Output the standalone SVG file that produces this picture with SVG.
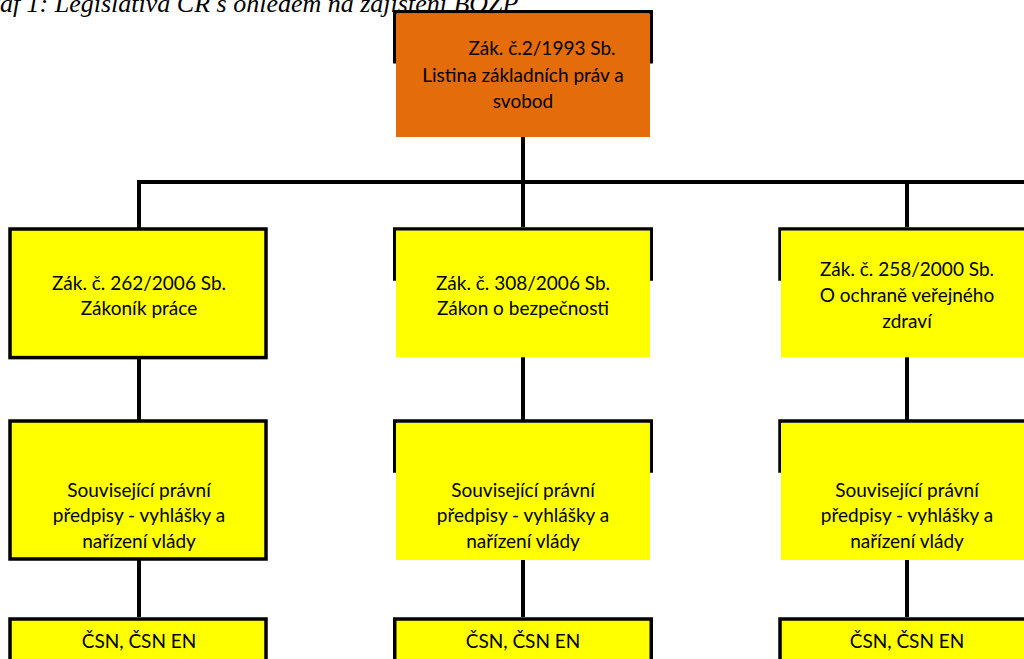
<svg xmlns="http://www.w3.org/2000/svg" width="1024" height="659" viewBox="0 0 1024 659">
<style>
.bd{fill:none;stroke:#000;stroke-width:3.5}
.fb{fill:#FFFF00;stroke:#000;stroke-width:3.5}
.y{fill:#FFFF00}
.o{fill:#E46C0A}
.t{font-family:Lato,"Open Sans",sans-serif;font-size:19px;fill:#000;text-anchor:middle}
.ttl{font-family:"Liberation Serif",serif;font-style:italic;font-size:26px;fill:#000}
.c{stroke:#000;stroke-width:4;fill:none}
</style>
<text class="ttl" x="-29" y="12">Graf 1: Legislativa ČR s ohledem na zajištění BOZP</text>
<g id="connectors">
<path class="c" d="M523 137V227M139 229V182H1024M907 182V227"/>
<path class="c" d="M139 359V420M523 357V420M907 357V420"/>
<path class="c" d="M139 560V617M523 560V617M907 560V617"/>
</g>
<g id="n0">
<rect class="bd" x="394.75" y="11.75" width="256.5" height="50"/>
<rect class="o" x="396" y="14" width="254" height="123"/>
<text class="t" x="542" y="55">Zák. č.2/1993 Sb.</text>
<text class="t" x="523" y="82">Listina základních práv a</text>
<text class="t" x="523" y="108">svobod</text>
</g>
<g id="n1">
<rect class="fb" x="10" y="229" width="256" height="128.6"/>
<text class="t" x="139" y="290">Zák. č. 262/2006 Sb.</text>
<text class="t" x="139" y="315">Zákoník práce</text>
</g>
<g id="n2">
<rect class="bd" x="394.75" y="229" width="256.5" height="50"/>
<rect class="y" x="396" y="230.7" width="254" height="126.6"/>
<text class="t" x="523" y="290">Zák. č. 308/2006 Sb.</text>
<text class="t" x="523" y="315">Zákon o bezpečnosti</text>
</g>
<g id="n3">
<rect class="bd" x="780" y="229" width="256.5" height="50"/>
<rect class="y" x="781" y="230.7" width="254" height="126.6"/>
<text class="t" x="907" y="276">Zák. č. 258/2000 Sb.</text>
<text class="t" x="907" y="302">O ochraně veřejného</text>
<text class="t" x="907" y="328">zdraví</text>
</g>
<g id="n4">
<rect class="fb" x="10" y="421" width="256" height="138"/>
<text class="t" x="139" y="497">Související právní</text>
<text class="t" x="139" y="522">předpisy - vyhlášky a</text>
<text class="t" x="139" y="548">nařízení vlády</text>
</g>
<g id="n5">
<rect class="bd" x="394.75" y="421" width="256.5" height="50"/>
<rect class="y" x="396" y="423" width="254" height="137"/>
<text class="t" x="523" y="497">Související právní</text>
<text class="t" x="523" y="522">předpisy - vyhlášky a</text>
<text class="t" x="523" y="548">nařízení vlády</text>
</g>
<g id="n6">
<rect class="bd" x="780" y="421" width="256.5" height="50"/>
<rect class="y" x="781" y="423" width="254" height="137"/>
<text class="t" x="907" y="497">Související právní</text>
<text class="t" x="907" y="522">předpisy - vyhlášky a</text>
<text class="t" x="907" y="548">nařízení vlády</text>
</g>
<g id="n7">
<rect class="fb" x="10" y="619" width="256" height="60"/>
<text class="t" x="139" y="648">ČSN, ČSN EN</text>
</g>
<g id="n8">
<rect class="fb" x="394.75" y="619" width="256.5" height="60"/>
<text class="t" x="523" y="648">ČSN, ČSN EN</text>
</g>
<g id="n9">
<rect class="fb" x="780" y="619" width="256.5" height="60"/>
<text class="t" x="907" y="648">ČSN, ČSN EN</text>
</g>
</svg>
